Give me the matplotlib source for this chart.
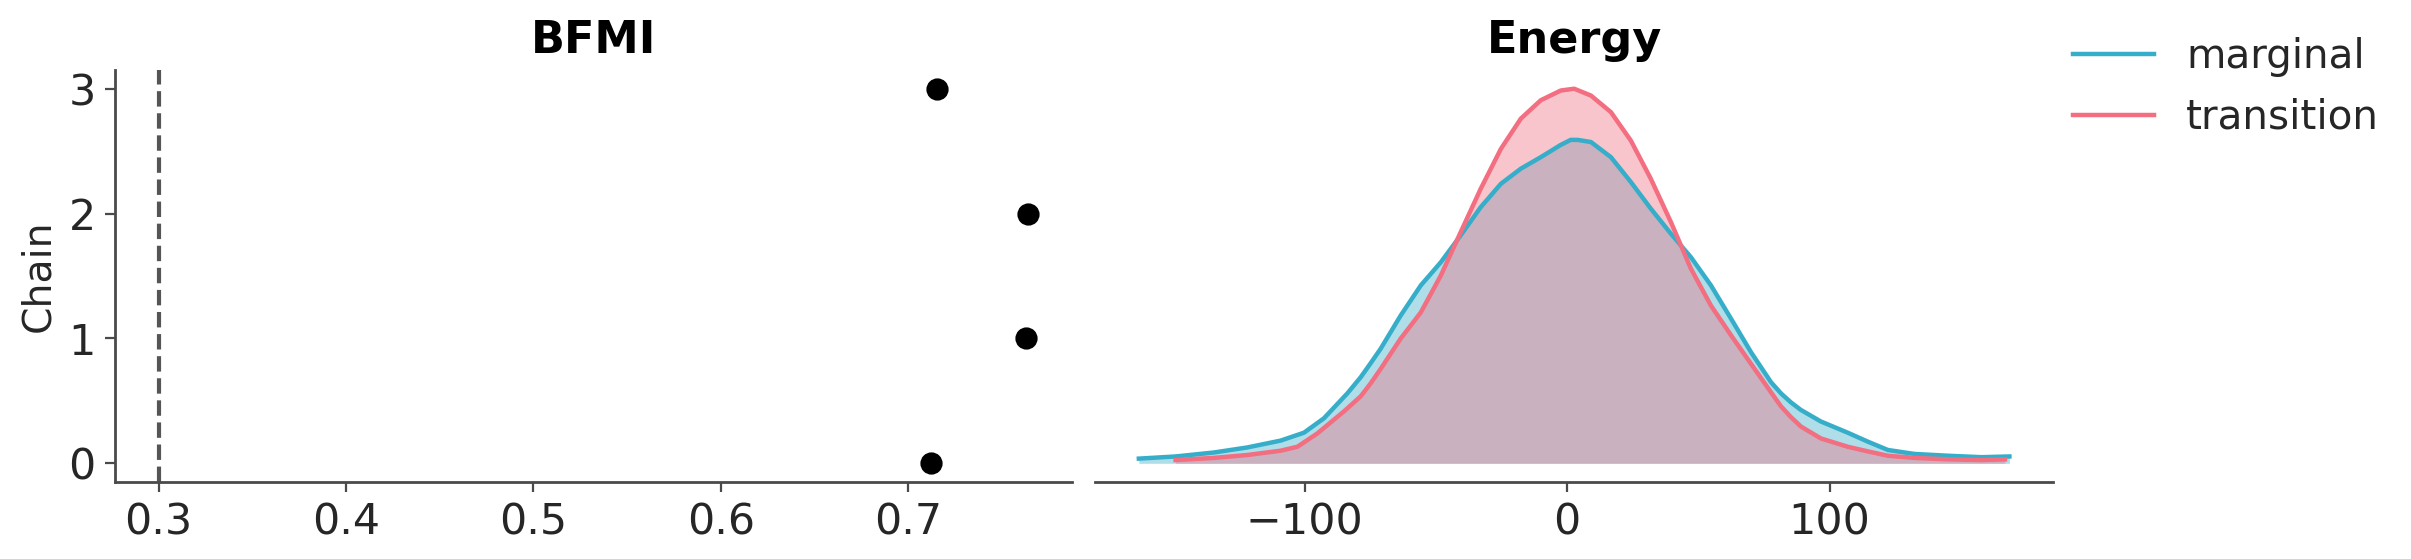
import matplotlib
matplotlib.use("Agg")
import matplotlib.pyplot as plt

# ---- data ----
chains = [0, 1, 2, 3]
bfmi_values = [0.712, 0.7626, 0.7641, 0.7154]
bfmi_threshold = 0.3

marginal_x = [-163.1, -149.1, -134.5, -121.8, -109.1, -100.2, -92.6, -83.7, -78.6, -74.8,
              -71.0, -63.4, -55.7, -48.1, -40.5, -32.9, -25.2, -17.6, -10.0, -2.4,
              1.4, 4.0, 9.1, 16.7, 24.3, 31.9, 39.6, 47.2, 54.8, 62.5,
              70.1, 77.7, 81.5, 85.3, 89.1, 96.7, 106.9, 114.6, 122.2, 132.3,
              145.1, 157.8, 168.5]
marginal_density_e3 = [0.13, 0.19, 0.30, 0.44, 0.63, 0.85, 1.25, 1.94, 2.39, 2.78,
                       3.18, 4.10, 4.94, 5.58, 6.33, 7.11, 7.76, 8.18, 8.50, 8.84,
                       8.98, 8.98, 8.92, 8.50, 7.81, 7.07, 6.37, 5.72, 4.94, 4.01,
                       3.08, 2.25, 1.94, 1.69, 1.48, 1.16, 0.85, 0.60, 0.37, 0.26,
                       0.21, 0.17, 0.19]

transition_x = [-149.1, -134.5, -121.8, -109.1, -102.7, -95.1, -85.0, -78.6, -74.8, -71.0,
                -63.4, -55.7, -48.1, -40.5, -32.9, -25.2, -17.6, -10.0, -2.4, 2.7,
                9.1, 16.7, 24.3, 31.9, 39.6, 47.2, 54.8, 62.5, 70.1, 77.7,
                81.5, 85.3, 89.1, 96.7, 106.9, 114.6, 122.2, 132.3, 145.1, 157.8,
                166.8]
transition_density_e3 = [0.09, 0.15, 0.23, 0.35, 0.46, 0.83, 1.44, 1.86, 2.22, 2.62,
                         3.46, 4.19, 5.21, 6.42, 7.62, 8.73, 9.57, 10.08, 10.35, 10.40,
                         10.21, 9.75, 8.96, 7.90, 6.69, 5.40, 4.38, 3.55, 2.76, 1.97,
                         1.58, 1.28, 1.02, 0.69, 0.46, 0.33, 0.21, 0.15, 0.11, 0.09,
                         0.11]

energy_ticks = [-100, 0, 100]
bfmi_ticks = [0.3, 0.4, 0.5, 0.6, 0.7]

# ---- style ----
c_marg = "#37aec9"
c_trans = "#f26e80"
spine_c = "#4a4a4a"
text_c = "#262626"
plt.rcParams["font.family"] = ["DejaVu Sans"]

fig = plt.figure(figsize=(12.055, 2.795), dpi=200)
ax1 = fig.add_axes([0.0477, 0.1377, 0.3969, 0.7371])
ax2 = fig.add_axes([0.4543, 0.1377, 0.3972, 0.7371])

# BFMI
ax1.plot(bfmi_values, chains, "o", color="black", markersize=7)
ax1.axvline(bfmi_threshold, color="#555555", linestyle="--", linewidth=1.5)
ax1.set_xticks(bfmi_ticks)
ax1.set_yticks(chains)
ax1.set_ylabel("Chain", fontsize=14.2, color=text_c)
ax1.set_title("BFMI", fontsize=16, fontweight="bold")
for s in ["top", "right"]:
    ax1.spines[s].set_visible(False)
for s in ["left", "bottom"]:
    ax1.spines[s].set_color(spine_c)
    ax1.spines[s].set_linewidth(1.0)
ax1.tick_params(labelsize=15.4, colors=spine_c, labelcolor=text_c, length=3.5, width=0.8)

# Energy
ax2.fill_between(marginal_x, marginal_density_e3, color=c_marg, alpha=0.4, linewidth=0)
ax2.plot(marginal_x, marginal_density_e3, color=c_marg, linewidth=1.6, label="marginal",
         solid_joinstyle="round")
ax2.fill_between(transition_x, transition_density_e3, color=c_trans, alpha=0.4, linewidth=0)
ax2.plot(transition_x, transition_density_e3, color=c_trans, linewidth=1.6, label="transition",
         solid_joinstyle="round")
ax2.set_xticks(energy_ticks)
ax2.set_yticks([])
ax2.set_title("Energy", fontsize=16, fontweight="bold")
for s in ["top", "right", "left"]:
    ax2.spines[s].set_visible(False)
ax2.spines["bottom"].set_color(spine_c)
ax2.spines["bottom"].set_linewidth(1.0)
ax2.tick_params(labelsize=15.4, colors=spine_c, labelcolor=text_c, length=3.5, width=0.8)

fig.legend(loc="upper left", bbox_to_anchor=(0.853, 0.962), frameon=False, fontsize=14.6,
           borderaxespad=0, labelcolor=text_c, handletextpad=0.8)

fig.savefig("out.png", dpi=200, facecolor="white")
